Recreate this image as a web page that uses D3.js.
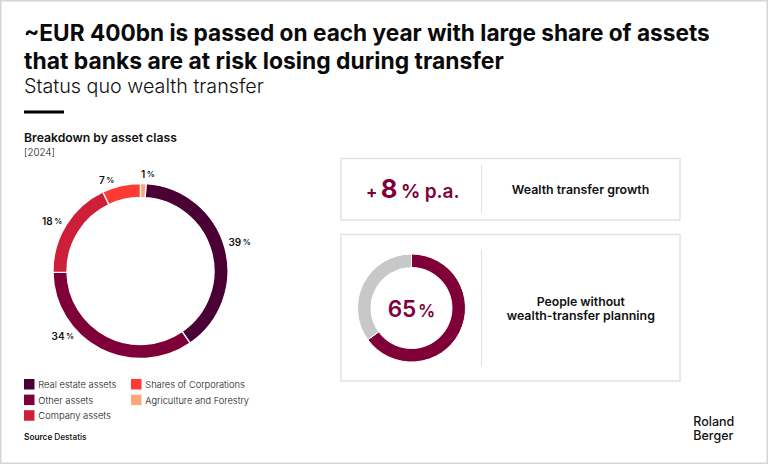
<!DOCTYPE html>
<html><head><meta charset="utf-8">
<script src="https://cdn.jsdelivr.net/npm/d3@7"></script>
<style>
body{margin:0;background:#fff;}
svg{display:block;font-family:Inter,"Noto Sans",sans-serif;}
</style>
</head><body>
<svg id="c" width="768" height="464"></svg>
<script>
// ---------- data ----------
const titleLines = ["~EUR 400bn is passed on each year with large share of assets", "that banks are at risk losing during transfer"];
const subtitle = "Status quo wealth transfer";
const panelTitle = "Breakdown by asset class";
const panelYear = "[2024]";
const categories = ["Real estate assets", "Other assets", "Company assets", "Shares of Corporations", "Agriculture and Forestry"];
const shares = [39, 34, 18, 7, 1];
const colors = ["#4b0035", "#7f0038", "#cd1f37", "#ff3a33", "#ffa57c"];
const growthRate = 8;
const growthLabel = "Wealth transfer growth";
const planningCategories = ["Without planning", "With planning"];
const planningValues = [65, 35];
const planningColors = ["#7f0038", "#c8c8c8"];
const planningLabel = ["People without", "wealth-transfer planning"];
const sourceText = ["Source", "Destatis"];
const logoLines = ["Roland", "Berger"];

// ---------- helpers ----------
const svg = d3.select("#c");
function fit(sel, target) {
  const node = sel.node();
  const cur = node.getComputedTextLength();
  if (!cur) return sel;
  const k = target / cur;
  const tspans = sel.selectAll("tspan");
  if (tspans.size()) {
    tspans.each(function () {
      const t = d3.select(this);
      t.attr("font-size", parseFloat(t.attr("font-size")) * k);
      if (t.attr("dx")) t.attr("dx", parseFloat(t.attr("dx")) * k);
    });
  } else {
    sel.attr("font-size", parseFloat(sel.attr("font-size")) * k);
  }
  return sel;
}

// frame
svg.append("rect").attr("x", 0.75).attr("y", 0.75).attr("width", 766.5).attr("height", 462.5)
  .attr("fill", "#fff").attr("stroke", "#d6d6d6").attr("stroke-width", 1.5);

// titles
const titleWidths = [686, 480];
titleLines.forEach((t, i) => {
  const el = svg.append("text").attr("x", 24).attr("y", 41 + i * 27.5)
    .attr("font-size", 21).attr("font-weight", 700).attr("fill", "#0a0a0a").text(t);
  fit(el, titleWidths[i]);
});
fit(svg.append("text").attr("x", 24).attr("y", 92.5).attr("font-size", 17)
  .attr("font-weight", 300).attr("fill", "#111").text(subtitle), 240);
svg.append("rect").attr("x", 24).attr("y", 110.5).attr("width", 40).attr("height", 3).attr("fill", "#000");

fit(svg.append("text").attr("x", 24).attr("y", 142).attr("font-size", 12)
  .attr("font-weight", 600).attr("fill", "#111").text(panelTitle), 153);
fit(svg.append("text").attr("x", 24).attr("y", 155.5).attr("font-size", 11)
  .attr("font-weight", 300).attr("fill", "#111").text(panelYear), 31);

// ---------- main donut ----------
const n = categories.length;
const data = categories.map((c, i) => ({ cat: c, value: shares[i], color: colors[i] }));
// drawing starts with the smallest (last) category at twelve o'clock
const drawRank = c => (categories.indexOf(c) + 1) % n;
const pie = d3.pie().value(d => d.value).sort((a, b) => drawRank(a.cat) - drawRank(b.cat));
const arcs = pie(data);
const cx = 140.5, cy = 271, rOut = 87.5, rIn = 73.5;
const arc = d3.arc().innerRadius(rIn).outerRadius(rOut);
const g = svg.append("g").attr("transform", `translate(${cx},${cy})`);
g.selectAll("path.slice").data(arcs).join("path").attr("class", "slice")
  .attr("d", arc).attr("fill", d => d.data.color)
  .attr("stroke", "#fff").attr("stroke-width", 1.3);

// labels
const angleNudge = { "Real estate assets": -2, "Other assets": 21, "Company assets": -1, "Shares of Corporations": -7, "Agriculture and Forestry": 2.5 };
arcs.forEach(d => {
  const a = (d.startAngle + d.endAngle) / 2 + (angleNudge[d.data.cat] || 0) * Math.PI / 180;
  const t = g.append("text").attr("font-weight", 600).attr("fill", "#111")
    .attr("text-anchor", "middle").attr("dominant-baseline", "central");
  t.append("tspan").attr("font-size", 10).text(d.data.value);
  t.append("tspan").attr("font-size", 8).attr("dx", 1.5).text("%");
  const w = t.node().getComputedTextLength();
  const gap = 5, hh = 4.5, hw = w / 2 + 1;
  const sx = Math.sin(a), sy = -Math.cos(a);
  t.attr("x", sx * (rOut + gap) + sx * hw).attr("y", sy * (rOut + gap) + sy * hh);
});

// legend
const legendWidths = [78, 55, 72.7, 99.6, 104];
const legend = svg.append("g");
categories.forEach((c, i) => {
  const col = i < 3 ? 0 : 1, row = i % 3;
  const x = 24 + col * 107, y = 379 + row * 15.6;
  legend.append("rect").attr("x", x).attr("y", y).attr("width", 10.5).attr("height", 10.5).attr("fill", colors[i]);
  fit(legend.append("text").attr("x", x + 14.3).attr("y", y + 5.5).attr("dominant-baseline", "central")
    .attr("font-size", 10).attr("font-weight", 300).attr("fill", "#111").text(c), legendWidths[i]);
});

const src = svg.append("text").attr("x", 24).attr("y", 440).attr("fill", "#111");
src.append("tspan").attr("font-size", 8.5).attr("font-weight", 600).text(sourceText[0]);
src.append("tspan").attr("font-size", 8.5).attr("font-weight", 500).attr("dx", 2).text(sourceText[1]);
fit(src, 60.7);

// ---------- right panels ----------
const boxX = 341, boxW = 339, divX = 481.5;
const box1 = { y: 158.5, h: 61.5 }, box2 = { y: 234.5, h: 146.5 };
[box1, box2].forEach(b => {
  svg.append("rect").attr("x", boxX).attr("y", b.y).attr("width", boxW).attr("height", b.h)
    .attr("fill", "#fff").attr("stroke", "#e2e2e2").attr("stroke-width", 1.5);
});
svg.append("line").attr("x1", divX).attr("x2", divX).attr("y1", 165).attr("y2", 213).attr("stroke", "#e2e2e2");
svg.append("line").attr("x1", divX).attr("x2", divX).attr("y1", 249).attr("y2", 367).attr("stroke", "#e2e2e2");

// growth KPI
const maroon = planningColors[0];
const kpi = svg.append("text").attr("x", 412.8).attr("y", 197.7).attr("text-anchor", "middle")
  .attr("fill", maroon).attr("font-weight", 700);
kpi.append("tspan").attr("font-size", 15).text("+");
kpi.append("tspan").attr("font-size", 23).attr("dx", 3).text(growthRate);
kpi.append("tspan").attr("font-size", 17).attr("dx", 3).text("%");
kpi.append("tspan").attr("font-size", 17).attr("dx", 4).attr("font-weight", 600).text("p.a.");
fit(kpi, 82.3);
fit(svg.append("text").attr("x", 580.5).attr("y", 193.5).attr("text-anchor", "middle")
  .attr("font-size", 13).attr("font-weight", 600).attr("fill", "#111").text(growthLabel), 137.6);

// planning donut
const pcx = 411.5, pcy = 308, pOut = 54, pIn = 40.5;
const pPie = d3.pie().sort(null);
const pArc = d3.arc().innerRadius(pIn).outerRadius(pOut);
const pg = svg.append("g").attr("transform", `translate(${pcx},${pcy})`);
pg.selectAll("path").data(pPie(planningValues)).join("path")
  .attr("d", pArc).attr("fill", (d, i) => planningColors[i])
  .attr("stroke", "#fff").attr("stroke-width", 1);
const pct = pg.append("text").attr("y", 8.7).attr("text-anchor", "middle")
  .attr("fill", maroon).attr("font-weight", 600);
pct.append("tspan").attr("font-size", 25).text(planningValues[0]);
pct.append("tspan").attr("font-size", 19).attr("dx", 2).text("%");
fit(pct, 46);

const plWidths = [88.3, 148.3];
planningLabel.forEach((t, i) => {
  fit(svg.append("text").attr("x", 580.8).attr("y", 305.7 + i * 13.8).attr("text-anchor", "middle")
    .attr("font-size", 13).attr("font-weight", 600).attr("fill", "#111").text(t), plWidths[i]);
});

// logo (two lines)
logoLines.forEach((t, i) => {
  svg.append("text").attr("x", 693.3).attr("y", 425.5 + i * 14)
    .attr("font-size", 12.5).attr("font-weight", 500).attr("fill", "#111").text(t);
});
</script>
</body></html>
